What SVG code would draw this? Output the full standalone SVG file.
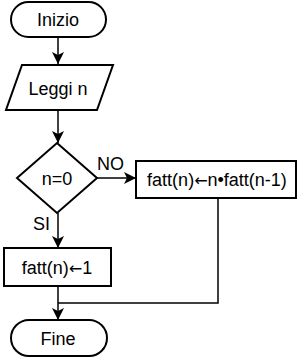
<svg xmlns="http://www.w3.org/2000/svg" width="300" height="358" viewBox="0 0 300 358">
<style>
.shape{fill:#fff;stroke:#000;stroke-width:2}
.conn{fill:none;stroke:#000;stroke-width:1.5}
text{font-family:"Liberation Sans",Arial,sans-serif;font-size:18px;fill:#000}
.c{text-anchor:middle}
.arr{font-family:"DejaVu Sans",sans-serif;font-size:16px}
</style>
<defs>
<marker id="ah" markerWidth="12" markerHeight="12" viewBox="0 0 12 12" refX="12" refY="6" orient="auto" markerUnits="userSpaceOnUse">
<path d="M0,0 L12,6 L0,12 L3,6 Z" fill="#000"/>
</marker>
</defs>
<g id="connectors">
<line class="conn" x1="58" y1="37" x2="58" y2="64" marker-end="url(#ah)"/>
<line class="conn" x1="58" y1="110" x2="58" y2="143" marker-end="url(#ah)"/>
<line class="conn" x1="97" y1="178" x2="136" y2="178" marker-end="url(#ah)"/>
<line class="conn" x1="58" y1="213" x2="58" y2="248" marker-end="url(#ah)"/>
<line class="conn" x1="58" y1="286" x2="58" y2="320" marker-end="url(#ah)"/>
<polyline class="conn" points="218,198 218,303 58,303"/>
<text x="97" y="170">NO</text>
<text x="33" y="230">SI</text>
</g>
<g id="inizio">
<rect class="shape" x="11" y="2" width="95" height="35" rx="17.5"/>
<text class="c" x="58" y="26">Inizio</text>
</g>
<g id="leggi">
<polygon class="shape" points="22,65 113,65 97,110 6,110"/>
<text class="c" x="58" y="95">Leggi n</text>
</g>
<g id="cond">
<polygon class="shape" points="57,143 97,178 57,213 17,178"/>
<text class="c" x="57" y="185">n=0</text>
</g>
<g id="ricorsione">
<rect class="shape" x="136" y="161" width="160" height="37"/>
<text class="c" x="217" y="186">fatt(n)<tspan class="arr">←</tspan>n•fatt(n-1)</text>
</g>
<g id="base">
<rect class="shape" x="4" y="248" width="107" height="38"/>
<text class="c" x="57" y="274">fatt(n)<tspan class="arr">←</tspan>1</text>
</g>
<g id="fine">
<rect class="shape" x="11" y="320" width="96" height="36" rx="18"/>
<text class="c" x="58" y="345">Fine</text>
</g>
</svg>
